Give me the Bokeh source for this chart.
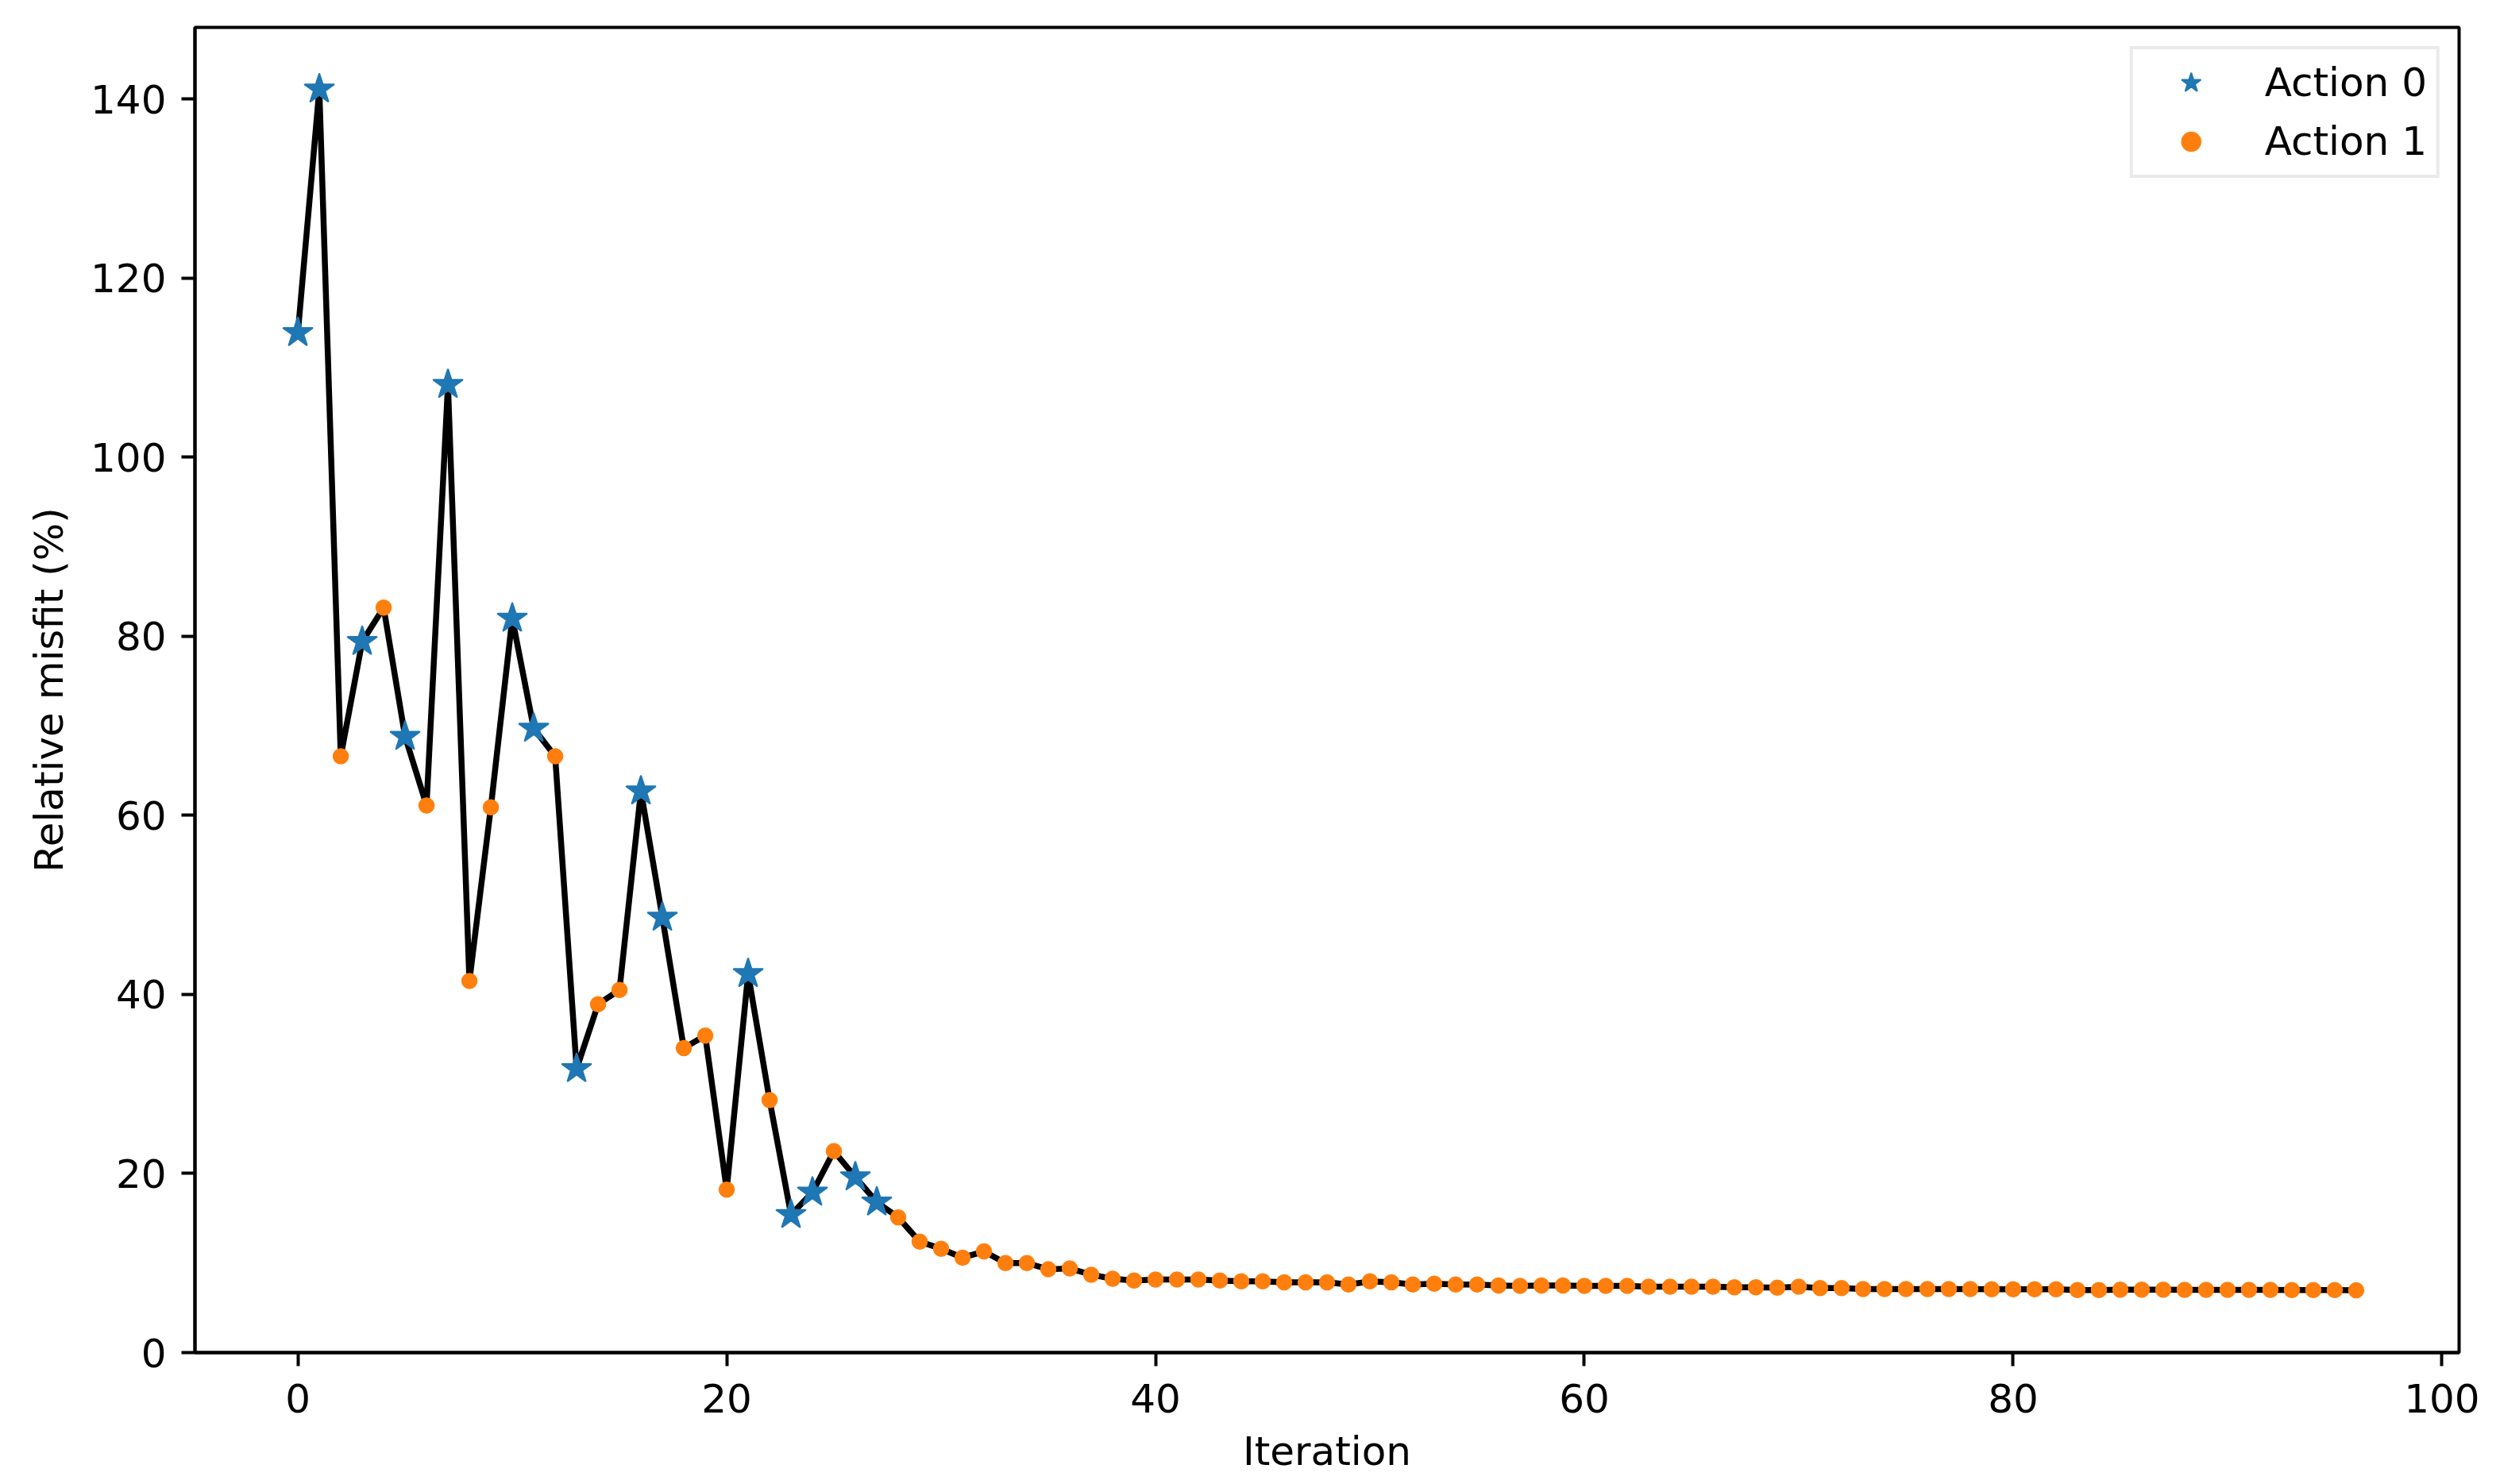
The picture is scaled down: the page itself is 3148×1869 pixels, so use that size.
import numpy as np
from bokeh.plotting import figure
from bokeh.models import Range1d, FixedTicker
from bokeh.embed import file_html
from bokeh.resources import INLINE

# Relative misfit (%) per iteration
misfit = [113.9, 141.1, 66.6, 79.4, 83.2, 68.8, 61.1, 108.1, 41.5, 60.9,
          82.0, 69.7, 66.6, 31.7, 38.9, 40.5, 62.7, 48.6, 34.0, 35.4,
          18.2, 42.3, 28.2, 15.4, 17.9, 22.5, 19.6, 16.8, 15.1, 12.4,
          11.6, 10.6, 11.3, 10.0, 10.0, 9.3, 9.4, 8.7, 8.25, 8.05,
          8.15, 8.15, 8.15, 8.05, 7.95, 7.95, 7.85, 7.85, 7.85, 7.6,
          7.95, 7.85, 7.6, 7.7, 7.6, 7.6, 7.5, 7.45, 7.5, 7.5,
          7.45, 7.45, 7.45, 7.35, 7.35, 7.35, 7.35, 7.3, 7.3, 7.25,
          7.35, 7.2, 7.2, 7.1, 7.1, 7.1, 7.1, 7.1, 7.1, 7.07,
          7.07, 7.07, 7.07, 6.98, 6.98, 7.02, 7.02, 7.02, 7.0, 7.0,
          7.0, 7.0, 7.0, 6.98, 6.98, 6.98, 6.95]
action0_iters = [0, 1, 3, 5, 7, 10, 11, 13, 16, 17, 21, 23, 24, 26, 27]
x_ticks = [0, 20, 40, 60, 80, 100]
y_ticks = [0, 20, 40, 60, 80, 100, 120, 140]
legend_labels = ["Action 0", "Action 1"]

iters = list(range(len(misfit)))
a0_x = [i for i in iters if i in action0_iters]
a0_y = [misfit[i] for i in a0_x]
a1_x = [i for i in iters if i not in action0_iters]
a1_y = [misfit[i] for i in a1_x]

xspan = iters[-1] - iters[0]

FONT = "DejaVu Sans"
FS = "50px"

p = figure(width=3132, height=1859, output_backend="svg", toolbar_location=None,
           x_range=Range1d(iters[0] - 0.05 * xspan, iters[-1] + 0.05 * xspan),
           y_range=Range1d(0, 148),
           min_border_left=245, min_border_right=36, min_border_top=34,
           min_border_bottom=156)
p.background_fill_color = "white"
p.border_fill_color = "white"
p.xgrid.visible = False
p.ygrid.visible = False
p.outline_line_color = "black"
p.outline_line_width = 4

p.line(iters, misfit, line_color="black", line_width=7.5)
p.scatter(a0_x, a0_y, marker="star", size=38, fill_color="#1f77b4",
          line_color="#1f77b4", line_width=2.5, line_join="round",
          legend_label=legend_labels[0])
p.scatter(a1_x, a1_y, marker="circle", size=19, fill_color="#ff7f0e",
          line_color="#ff7f0e", line_width=1.5, legend_label=legend_labels[1])

for ax in (p.xaxis[0], p.yaxis[0]):
    ax.axis_line_width = 4
    ax.axis_line_color = "black"
    ax.major_tick_line_width = 4
    ax.major_tick_out = 17
    ax.major_tick_in = 0
    ax.minor_tick_out = 0
    ax.minor_tick_in = 0
    ax.major_label_text_font = FONT
    ax.major_label_text_font_size = FS
    ax.major_label_text_color = "black"
    ax.axis_label_text_font = FONT
    ax.axis_label_text_font_size = FS
    ax.axis_label_text_font_style = "normal"
    ax.axis_label_text_color = "black"

p.xaxis.ticker = FixedTicker(ticks=x_ticks)
p.yaxis.ticker = FixedTicker(ticks=y_ticks)
p.xaxis.axis_label = "Iteration"
p.yaxis.axis_label = "Relative misfit (%)"
p.xaxis.major_label_standoff = 22
p.yaxis.major_label_standoff = 19
p.xaxis.axis_label_standoff = 17
p.yaxis.axis_label_standoff = 20

lg = p.legend[0]
lg.location = "top_right"
lg.margin = 24
lg.padding = 12
lg.spacing = 14
lg.glyph_width = 122
lg.glyph_height = 60
lg.label_height = 60
lg.label_standoff = 32
lg.label_text_font = FONT
lg.label_text_font_size = FS
lg.label_text_color = "black"
lg.border_line_color = "#d6d6d6"
lg.border_line_width = 4.5
lg.background_fill_alpha = 0.8

open("out.html", "w").write(file_html(p, INLINE))
